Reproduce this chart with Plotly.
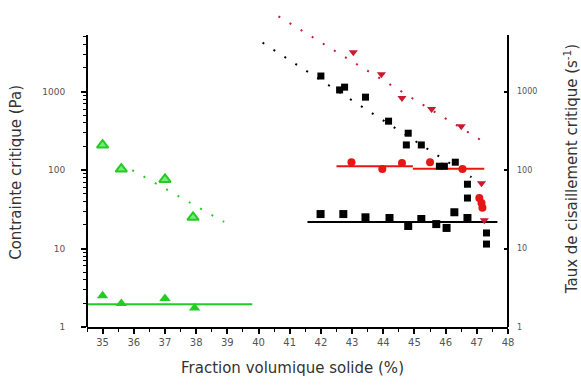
import plotly.graph_objects as go

# ---------------- data ----------------
# green: 35-39 %
green_low_x = [35.0, 35.6, 37.0, 37.95]
green_low_y = [2.5, 2.0, 2.3, 1.75]
green_low_fit_x = [34.5, 39.8]
green_low_fit_y = [1.95, 1.95]

green_up_x = [35.0, 35.6, 37.0, 37.9]
green_up_y = [208, 103, 76, 25]
green_up_fit_x = [35.95, 38.9]
green_up_fit_y = [100, 21.8]

# black squares
black_up_x = [42.0, 42.6, 42.76, 43.43, 44.17, 44.8, 44.74, 45.22, 45.8, 45.96, 46.31, 46.7, 46.7, 47.31, 47.31]
black_up_y = [1580, 1050, 1140, 850, 420, 295, 209, 209, 112, 112, 126, 66, 44, 15.8, 11.4]
black_up_fit_x = [40.13, 46.83]
black_up_fit_y = [4200, 81]

black_low_x = [41.99, 42.72, 43.43, 44.2, 44.8, 45.22, 45.7, 46.03, 46.28, 46.7]
black_low_y = [27.5, 27.5, 25, 24.5, 19.4, 23.8, 20.5, 18.3, 29, 24.5]
black_low_fit_x = [41.57, 47.66]
black_low_fit_y = [21.8, 21.8]

# red
red_up_x = [43.04, 43.94, 44.6, 45.55, 46.5, 47.15, 47.24]
red_up_y = [3170, 1670, 830, 600, 363, 68, 23]
red_up_fit_x = [40.64, 47.34]
red_up_fit_y = [9100, 214]

red_mid_x = [42.98, 43.97, 44.6, 45.5, 46.54, 47.08, 47.15, 47.18]
red_mid_y = [126, 103, 123, 126, 103, 44, 38, 33]
red_mid_fit1_x = [42.5, 44.95]
red_mid_fit1_y = [112, 112]
red_mid_fit2_x = [44.95, 47.24]
red_mid_fit2_y = [104, 104]

x_ticks = list(range(35, 49))
y_ticks = [1, 10, 100, 1000]
y_minor = [2, 3, 4, 5, 6, 7, 8, 9, 20, 30, 40, 50, 60, 70, 80, 90,
           200, 300, 400, 500, 600, 700, 800, 900, 2000, 3000, 4000, 5000]

GREEN = "#22cc22"
RED = "#e81515"
DRED = "#c81a30"
BLACK = "#000000"
DOTS = "2px,11px"

fig = go.Figure()

def fit(x, y, color, dash=None, width=2):
    fig.add_trace(go.Scatter(x=x, y=y, mode="lines",
                             line=dict(color=color, width=width, dash=dash),
                             showlegend=False, hoverinfo="skip"))

# fits
fit(green_low_fit_x, green_low_fit_y, GREEN, None, 2)
fit(green_up_fit_x, green_up_fit_y, GREEN, DOTS, 2)
fit(black_up_fit_x, black_up_fit_y, BLACK, DOTS, 2)
fit(black_low_fit_x, black_low_fit_y, BLACK, None, 2)
fit(red_up_fit_x, red_up_fit_y, DRED, DOTS, 2)
fit(red_mid_fit1_x, red_mid_fit1_y, RED, None, 2)
fit(red_mid_fit2_x, red_mid_fit2_y, RED, None, 2)

# markers
fig.add_trace(go.Scatter(x=green_low_x, y=green_low_y, mode="markers",
                         marker=dict(symbol="triangle-up", size=10, color=GREEN),
                         showlegend=False))
fig.add_trace(go.Scatter(x=green_up_x, y=green_up_y, mode="markers",
                         marker=dict(symbol="triangle-up", size=10, color="#7be87b",
                                     line=dict(color=GREEN, width=2)),
                         showlegend=False))
fig.add_trace(go.Scatter(x=black_up_x, y=black_up_y, mode="markers",
                         marker=dict(symbol="square", size=7, color=BLACK),
                         showlegend=False))
fig.add_trace(go.Scatter(x=black_low_x, y=black_low_y, mode="markers",
                         marker=dict(symbol="square", size=8, color=BLACK),
                         showlegend=False))
fig.add_trace(go.Scatter(x=red_up_x, y=red_up_y, mode="markers",
                         marker=dict(symbol="triangle-down", size=8, color=DRED),
                         showlegend=False))
fig.add_trace(go.Scatter(x=red_mid_x, y=red_mid_y, mode="markers",
                         marker=dict(symbol="circle", size=8, color=RED),
                         showlegend=False))

# dummy trace on right axis
fig.add_trace(go.Scatter(x=[None], y=[None], yaxis="y2", showlegend=False))

TICKFONT = dict(family="DejaVu Sans", size=9, color="#555555")
TITLEFONT = dict(family="DejaVu Sans", size=15, color="#333333")

top_paper = 3.72 / 4.04

fig.update_layout(
    width=581, height=385,
    margin=dict(l=87, r=73, t=10, b=58),
    plot_bgcolor="white", paper_bgcolor="white",
    showlegend=False,
    xaxis=dict(range=[34.5, 48], tickvals=x_ticks, ticks="outside", ticklen=5,
               tickwidth=1.5, tickcolor="black", showline=True, linecolor="black",
               linewidth=2, showgrid=False, zeroline=False,
               tickfont=dict(family="DejaVu Sans", size=10, color="#555555"),
               minor=dict(tickmode="array", tickvals=[v + 0.5 for v in x_ticks[:-1]] + [34.5],
                          ticks="outside", ticklen=3, tickwidth=1.2, tickcolor="black")),
    yaxis=dict(type="log", range=[0, 4.04], tickvals=y_ticks,
               ticktext=[str(v) for v in y_ticks],
               ticks="outside", ticklen=5, tickwidth=1.8, tickcolor="black",
               showline=False, showgrid=False, zeroline=False,
               tickfont=TICKFONT, ticklabelstandoff=14,
               minor=dict(tickmode="array", tickvals=y_minor, ticks="outside",
                          ticklen=3, tickwidth=1.2, tickcolor="black")),
    yaxis2=dict(type="log", range=[0, 4.04], overlaying="y", side="right",
                tickvals=y_ticks, ticktext=[str(v) for v in y_ticks],
                ticks="inside", ticklen=4, tickwidth=1.5, tickcolor="black",
                showline=False, showgrid=False, zeroline=False,
                tickfont=dict(family="DejaVu Sans", size=8, color="#555555"),
                ticklabelstandoff=8, automargin=False,
                title=dict(text="Taux de cisaillement critique (s<sup>-1</sup>)",
                           font=TITLEFONT, standoff=35)),
    shapes=[
        dict(type="line", xref="paper", yref="paper", x0=0, x1=0, y0=0, y1=top_paper,
             line=dict(color="black", width=2)),
        dict(type="line", xref="paper", yref="paper", x0=1, x1=1, y0=0, y1=top_paper,
             line=dict(color="black", width=2)),
    ],
    annotations=[
        dict(text="Fraction volumique solide (%)", xref="paper", yref="paper",
             x=0.489, y=-0.129, showarrow=False, xanchor="center", yanchor="middle",
             font=dict(family="DejaVu Sans", size=15, color="#333333")),
        dict(text="Contrainte critique (Pa)", xref="paper", yref="paper",
             x=-0.169, y=0.489, showarrow=False, textangle=-90,
             xanchor="center", yanchor="middle", font=TITLEFONT),
    ],
)

fig.write_html("out.html", config={"displayModeBar": False},
               post_script="document.body.style.margin='0';document.body.style.overflow='hidden';")
